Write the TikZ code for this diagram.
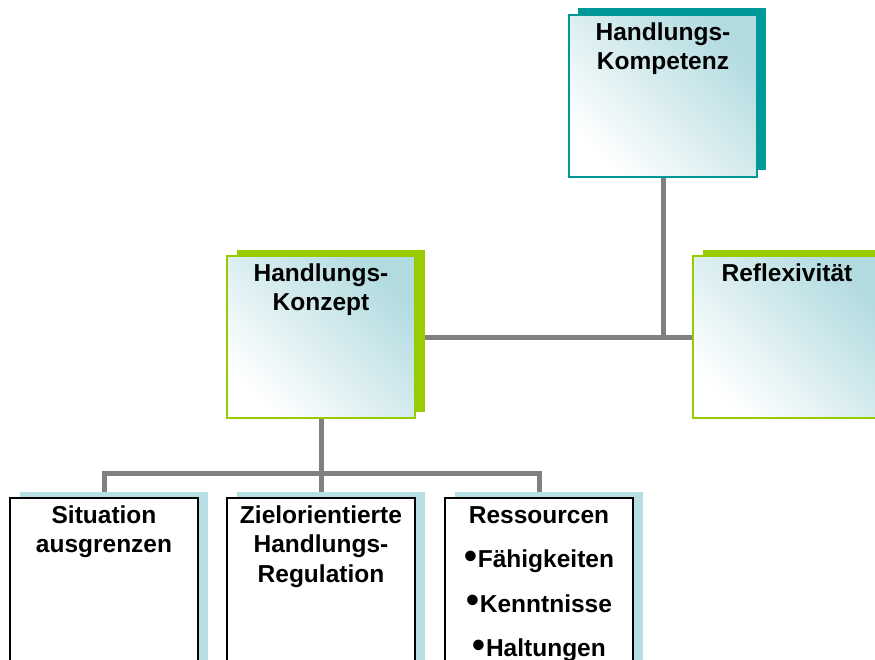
\documentclass[tikz,border=0pt]{standalone}
\usepackage{fontspec}
\setmainfont{Liberation Sans}
\usetikzlibrary{shadows,backgrounds,calc}
\definecolor{tealdark}{RGB}{0,153,153}
\definecolor{limegreen}{RGB}{153,204,0}
\definecolor{paleteal}{RGB}{178,219,224}
\definecolor{lightblue}{RGB}{183,222,226}
\definecolor{linegray}{RGB}{128,128,128}
\newcommand{\boxtext}[2][162pt]{\parbox[t][#1][t]{188pt}{\centering\fontsize{24.5}{29.5}\selectfont\bfseries\rule{0pt}{25pt}#2}}
\newcommand{\itembullet}{\raisebox{-0.5pt}{\scalebox{1.5}{\textbullet}}\hspace{1pt}}

\begin{document}
\begin{tikzpicture}[x=1pt,y=-1pt]
        \tikzstyle{conceptbox}=[line width=1.5pt,inner sep=0pt,top color=paleteal,bottom color=white,shading angle=-45]
        \tikzstyle{tealbox}=[conceptbox,draw=tealdark,general shadow={fill=tealdark,shadow xshift=9pt,shadow yshift=7.5pt}]
        \tikzstyle{greenbox}=[conceptbox,draw=limegreen,general shadow={fill=limegreen,shadow xshift=9.5pt,shadow yshift=6.5pt}]
        \tikzstyle{partbox}=[draw=black,fill=white,line width=1.5pt,inner sep=0pt,general shadow={fill=lightblue,shadow xshift=9.5pt,shadow yshift=6pt}]
        \tikzstyle{edge}=[draw=linegray,line width=5pt]
        \useasboundingbox (0,0) rectangle (875,659);
        \clip (0,0) rectangle (875,659);
        \node [tealbox] (komp) at (663,96) {\boxtext{Handlungs-\\Kompetenz}};
        \node [greenbox] (konz) at (321,337) {\boxtext{Handlungs-\\Konzept}};
        \node [greenbox] (refl) at (787,337) {\boxtext{Reflexivität}};
        \node [partbox] (sit) at (104,588) {\boxtext[180pt]{Situation\\ausgrenzen}};
        \node [partbox] (ziel) at (321,588) {\boxtext[180pt]{Zielorientierte\\Handlungs-\\Regulation}};
        \node [partbox] (res) at (539,588) {\boxtext[180pt]{Ressourcen\\[15pt]\itembullet Fähigkeiten\\[15pt]\itembullet Kenntnisse\\[15pt]\itembullet Haltungen}};
        \coordinate (fork) at ($(konz.south)+(0,55)$);
        \begin{scope}[on background layer]
                \path[edge] (komp.south) -- (komp.south |- konz.east);
                \path[edge] (konz.east) -- (refl.west);
                \path[edge] (konz.south) -- (fork);
                \path[edge] (sit.north) |- (fork) -| (res.north);
                \path[edge] (fork) -- (ziel.north);
        \end{scope}
\end{tikzpicture}
\end{document}
